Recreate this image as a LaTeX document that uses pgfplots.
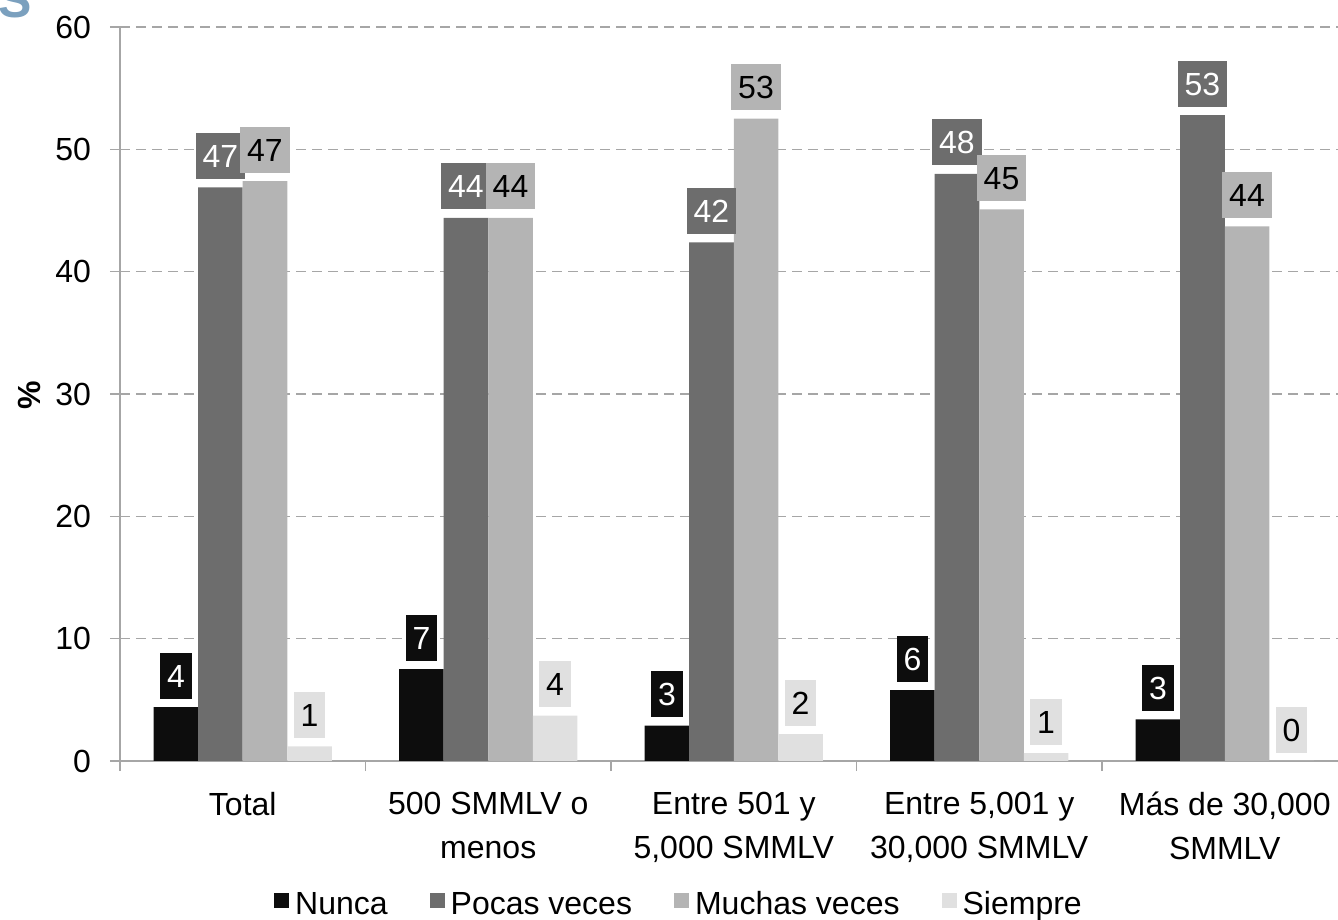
\documentclass[border=0pt]{standalone}
\usepackage{pgfplots}
\pgfplotsset{compat=1.18}
\usepackage{fontspec}
\setmainfont{Liberation Sans}
\definecolor{cNunca}{HTML}{0D0D0D}
\definecolor{cPocas}{HTML}{6D6D6D}
\definecolor{cMuchas}{HTML}{B4B4B4}
\definecolor{cSiempre}{HTML}{E0E0E0}
\definecolor{axisgrey}{HTML}{A6A6A6}
\definecolor{sblue}{HTML}{7BA0BE}
\newcommand{\f}{\fontsize{16}{22}\selectfont}
\begin{document}
\begin{tikzpicture}[x=1pt,y=1pt]
\useasboundingbox (-60,-79.5) rectangle (609,380.5);
\node[anchor=base east, inner sep=0pt, text=sblue, font=\bfseries\fontsize{25}{25}\selectfont] at (-44,371.5) {S};
\begin{axis}[
  at={(0,0)}, anchor=south west,
  scale only axis, width=613.75pt, height=367pt,
  xmin=-0.5, xmax=4.5, ymin=0, ymax=60,
  ybar=0pt, bar width=0.1813,
  axis lines*=left,
  axis line style={draw=axisgrey, line width=0.75pt},
  tick align=outside, major tick length=5pt,
  tick style={draw=axisgrey, line width=0.75pt},
  ytick={0,10,...,60},
  ymajorgrids, grid style={draw=axisgrey, line width=0.75pt, dash pattern=on 5pt off 3pt},
  xtick={-0.5,0.5,1.5,2.5,3.5,4.5}, xticklabels={},
  extra x ticks={0,1,2,3,4},
  extra x tick labels={{Total},{500 SMMLV o\\menos},{Entre 501 y\\5,000 SMMLV},{Entre 5,001 y\\30,000 SMMLV},{Más de 30,000\\SMMLV}},
  extra x tick style={grid=none, tick style={draw=none}},
  xticklabel style={align=center, font=\f, yshift=-7pt},
  yticklabel style={font=\f, xshift=-6pt},
  /pgf/number format/assume math mode=true,
  ylabel={\%},
  every axis y label/.style={at={(axis description cs:-0.074,0.4986)}, rotate=90, anchor=center, font=\f\bfseries},
  point meta=explicit symbolic,
  nodes near coords,
  every node near coord/.append style={font=\f, text height=11.5pt, text depth=0pt, inner xsep=3.4pt, inner ysep=5.75pt, anchor=south, yshift=4pt},
  sq legend/.style={legend image code/.code={\fill[##1] (0pt,-1.5pt) rectangle (7.5pt,6pt);}},
  legend style={at={(axis description cs:0.457,-0.196)}, anchor=center, draw=none, fill=none, font=\f, legend columns=-1,
    nodes={inner xsep=3pt},
    /tikz/every even column/.append style={column sep=18pt},
    /tikz/every odd column/.append style={column sep=0pt}},
]
\addplot[fill=cNunca, draw=none, sq legend, every node near coord/.append style={fill=cNunca, text=white}]
  coordinates {(0,4.4) [4] (1,7.5) [7] (2,2.9) [3] (3,5.8) [6] (4,3.4) [3]};
\addplot[fill=cPocas, draw=none, sq legend, every node near coord/.append style={fill=cPocas, text=white}]
  coordinates {(0,46.9) [47] (1,44.4) [44] (2,42.4) [42] (3,48.0) [48] (4,52.8) [53]};
\addplot[fill=cMuchas, draw=none, sq legend, every node near coord/.append style={fill=cMuchas, text=black}]
  coordinates {(0,47.4) [47] (1,44.4) [44] (2,52.5) [53] (3,45.1) [45] (4,43.7) [44]};
\addplot[fill=cSiempre, draw=none, sq legend, every node near coord/.append style={fill=cSiempre, text=black}]
  coordinates {(0,1.2) [1] (1,3.7) [4] (2,2.2) [2] (3,0.65) [1] (4,0) [0]};
\legend{Nunca, Pocas veces, Muchas veces, Siempre}
\end{axis}
\end{tikzpicture}
\end{document}
